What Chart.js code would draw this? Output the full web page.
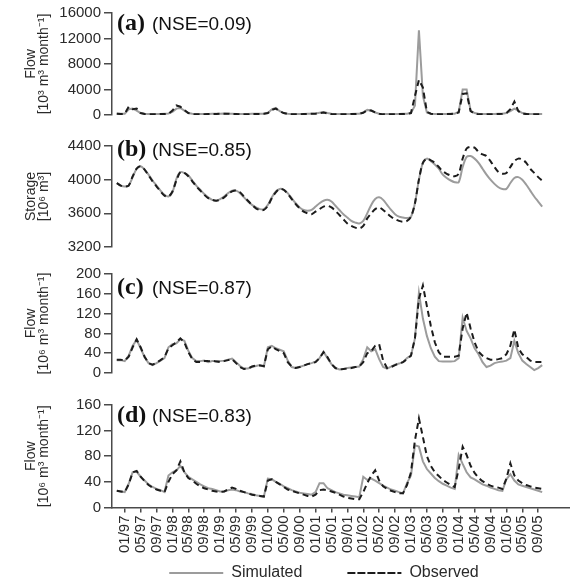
<!DOCTYPE html>
<html>
<head>
<meta charset="utf-8">
<script src="https://cdn.jsdelivr.net/npm/chart.js@4.4.0/dist/chart.umd.min.js"></script>
<style>
  html, body { margin: 0; padding: 0; background: #fff; overflow: hidden; }
  #wrap { position: relative; width: 570px; height: 584px; }
  .panel { position: absolute; left: 0; width: 570px; }
</style>
</head>
<body>
<div id="wrap">
  <div class="panel" style="top:0;height:127px"><canvas id="chartA"></canvas></div>
  <div class="panel" style="top:127px;height:132px"><canvas id="chartB"></canvas></div>
  <div class="panel" style="top:259px;height:126px"><canvas id="chartC"></canvas></div>
  <div class="panel" style="top:385px;height:199px"><canvas id="chartD"></canvas></div>
</div>
<script>
// monthly series, first month 11/96
const firstYear = 1996, firstMonth = 11;

const tickLabels = ['01/97','05/97','09/97','01/98','05/98','09/98','01/99','05/99','09/99',
  '01/00','05/00','09/00','01/01','05/01','09/01','01/02','05/02','09/02',
  '01/03','05/03','09/03','01/04','05/04','09/04','01/05','05/05','09/05'];

// (a) flow [10^3 m3/month]
const simA = [250, 200,
  200, 900, 1000, 700, 300, 200, 150, 150, 150, 150, 200, 250,
  500, 1000, 1100, 700, 300, 200, 150, 150, 150, 150, 200, 200,
  200, 250, 200, 200, 150, 150, 150, 150, 200, 200, 200, 200,
  300, 900, 1100, 600, 300, 200, 150, 150, 150, 150, 200, 200,
  250, 350, 450, 300, 200, 150, 150, 150, 150, 150, 200, 200,
  400, 800, 700, 400, 200, 150, 150, 150, 150, 150, 200, 200,
  300, 1500, 13300, 3000, 400, 200, 150, 150, 150, 150, 200, 200,
  500, 4000, 4000, 700, 300, 200, 150, 150, 150, 150, 200, 200,
  300, 600, 1000, 700, 300, 200, 150, 150, 150, 150];
const obsA = [200, 150,
  200, 1300, 900, 1000, 300, 150, 100, 100, 100, 150, 150, 200,
  700, 1500, 1300, 800, 300, 150, 100, 100, 100, 150, 150, 150,
  200, 200, 200, 150, 150, 100, 100, 100, 150, 150, 150, 200,
  300, 800, 1000, 600, 300, 150, 100, 100, 100, 150, 150, 200,
  200, 300, 400, 250, 150, 100, 100, 100, 100, 150, 150, 200,
  350, 750, 700, 400, 200, 100, 100, 100, 100, 150, 150, 200,
  300, 3000, 5500, 4300, 500, 200, 100, 100, 100, 150, 150, 200,
  400, 3300, 3400, 600, 200, 100, 100, 100, 100, 150, 150, 200,
  300, 900, 2100, 600, 200, 150, 100, 100, 100, 150];

// (b) storage [10^6 m3]
const simB = [3960, 3930,
  3920, 3930, 4030, 4130, 4160, 4120, 4060, 3990, 3930, 3870, 3820, 3800,
  3850, 4010, 4090, 4080, 4050, 3990, 3930, 3880, 3830, 3790, 3760, 3750,
  3770, 3800, 3840, 3870, 3870, 3840, 3790, 3740, 3700, 3670, 3650, 3650,
  3700, 3790, 3860, 3890, 3880, 3840, 3780, 3720, 3670, 3640, 3630, 3640,
  3680, 3720, 3750, 3760, 3740, 3690, 3640, 3590, 3550, 3510, 3490, 3480,
  3510, 3600, 3700, 3770, 3790, 3760, 3700, 3640, 3590, 3560, 3550, 3545,
  3560, 3720, 4000, 4200, 4250, 4220, 4180, 4130, 4060, 4020, 3990, 3970,
  3970, 4150, 4270, 4280, 4250, 4200, 4130, 4060, 4000, 3950, 3910, 3890,
  3890, 3960, 4020, 4030, 4000, 3940, 3870, 3800, 3740, 3680];
const obsB = [3960, 3930,
  3920, 3930, 4040, 4130, 4160, 4120, 4050, 3980, 3920, 3860, 3810, 3800,
  3860, 3990, 4090, 4080, 4040, 3980, 3920, 3870, 3820, 3780, 3760, 3750,
  3760, 3790, 3830, 3860, 3870, 3850, 3800, 3750, 3700, 3660, 3640, 3640,
  3690, 3780, 3850, 3890, 3880, 3830, 3770, 3710, 3660, 3620, 3600, 3590,
  3620, 3650, 3680, 3690, 3670, 3630, 3580, 3530, 3480, 3450, 3430, 3420,
  3450, 3540, 3600, 3650, 3670, 3640, 3600, 3560, 3530, 3510, 3500, 3510,
  3560, 3720, 4000, 4200, 4250, 4230, 4200, 4150, 4100, 4070, 4050, 4040,
  4070, 4250, 4370, 4390, 4380, 4330, 4300, 4280, 4220, 4150, 4090, 4070,
  4080, 4150, 4220, 4250, 4240, 4200, 4130, 4080, 4030, 3990];

// (c) flow [10^6 m3/month]
const simC = [26, 26,
  24, 35, 55, 67, 50, 32, 20, 16, 20, 25, 30, 52,
  58, 60, 68, 65, 45, 30, 24, 24, 25, 22, 24, 24,
  24, 25, 27, 29, 22, 14, 9, 9, 12, 14, 16, 13,
  52, 55, 50, 47, 44, 25, 12, 10, 12, 15, 18, 20,
  23, 30, 43, 30, 18, 10, 7, 8, 10, 11, 12, 13,
  28, 52, 44, 48, 28, 12, 9, 13, 17, 19, 22, 30,
  35, 70, 162, 110, 75, 50, 33, 24, 23, 23, 23, 24,
  30, 112, 85, 70, 50, 38, 22, 12, 15, 20, 22, 23,
  25, 30, 65, 40, 25, 18, 12, 6, 10, 16];
const obsC = [27, 27,
  25, 33, 52, 68, 52, 33, 20, 17, 21, 26, 32, 50,
  56, 62, 70, 62, 42, 28, 22, 22, 24, 24, 25, 23,
  22, 24, 26, 28, 20, 12, 8, 9, 13, 15, 15, 14,
  48, 54, 48, 44, 40, 22, 13, 10, 12, 15, 18, 20,
  22, 30, 42, 32, 18, 10, 7, 8, 9, 10, 12, 13,
  22, 40, 44, 55, 58, 25, 10, 12, 16, 19, 22, 28,
  35, 70, 150, 177, 135, 95, 62, 42, 33, 33, 33, 33,
  35, 90, 122, 90, 62, 43, 35, 30, 27, 27, 28, 30,
  38, 55, 88, 50, 38, 32, 25, 22, 22, 22];

// (d) flow [10^6 m3/month]
const simD = [26, 25,
  24, 37, 55, 56, 48, 42, 36, 32, 29, 27, 24, 50,
  55, 58, 65, 55, 48, 44, 40, 36, 33, 30, 29, 27,
  25, 25, 27, 28, 27, 25, 24, 22, 21, 19, 18, 17,
  45, 44, 40, 37, 33, 30, 27, 25, 23, 22, 21, 20,
  24, 38, 38, 30, 27, 24, 22, 20, 19, 18, 17, 16,
  48, 43, 45, 42, 38, 34, 31, 28, 26, 24, 22, 38,
  50, 97, 95, 72, 60, 53, 46, 41, 37, 34, 31, 29,
  82, 68, 55, 47, 44, 40, 36, 34, 31, 29, 27, 26,
  44, 52, 42, 36, 34, 32, 30, 28, 26, 24];
const obsD = [26, 25,
  24, 36, 55, 57, 48, 41, 35, 31, 28, 26, 24, 40,
  52, 58, 72, 55, 46, 42, 37, 33, 30, 28, 26, 25,
  24, 25, 28, 31, 29, 26, 24, 22, 20, 19, 18, 17,
  42, 44, 40, 36, 32, 28, 26, 24, 22, 20, 18, 17,
  20, 27, 28, 27, 25, 23, 20, 17, 15, 14, 13, 13,
  24, 38, 50, 58, 42, 33, 29, 26, 24, 22, 22, 35,
  55, 105, 139, 110, 80, 65, 55, 49, 43, 39, 35, 32,
  60, 95, 82, 65, 54, 46, 41, 37, 34, 32, 31, 29,
  45, 69, 50, 42, 38, 35, 33, 31, 30, 29];

const pad2 = n => String(n).padStart(2, '0');
const months = simA.map((_, i) => {
  const k = firstMonth - 1 + i;
  return pad2(k % 12 + 1) + '/' + pad2((firstYear + Math.floor(k / 12)) % 100);
});

const axisColor = '#4a4a4a';
const textColor = '#2a2a2a';
const xStart = months.indexOf('01/97') - 3.2;
const xEnd = xStart + 115.2;

Chart.defaults.font.family = '"Liberation Sans", Arial, sans-serif';
Chart.defaults.color = textColor;
Chart.defaults.animation = false;

// "(a) (NSE=...)" label in the top left corner of each panel
const panelTag = {
  id: 'panelTag',
  afterDraw(chart, args, opts) {
    const { ctx, chartArea } = chart;
    ctx.save();
    ctx.fillStyle = '#111';
    ctx.textBaseline = 'alphabetic';
    ctx.font = 'bold 24px "Liberation Serif", serif';
    ctx.fillText(opts.tag, chartArea.left + 5, chartArea.top + opts.dy);
    ctx.font = '19px "Liberation Sans", Arial, sans-serif';
    ctx.fillText(opts.nse, chartArea.left + 40, chartArea.top + opts.dy);
    ctx.restore();
  }
};

// put the legend row under the date labels (its box is clipped, so open it up)
const legendShift = {
  id: 'legendShift',
  afterLayout(chart, args, opts) {
    const lg = chart.legend;
    if (!lg || !lg.options.display) return;
    lg.left += opts.dx; lg.right += opts.dx;
    lg.top = opts.top; lg.bottom = opts.top + 80;
  }
};

function makePanel(id, p) {
  const pts = arr => arr.map((v, i) => ({ x: i, y: v }));
  return new Chart(document.getElementById(id), {
    type: 'line',
    data: {
      datasets: [
        { label: 'Simulated', data: pts(p.sim), borderColor: '#9c9c9c', borderWidth: 2,
          pointRadius: 0, tension: p.tension, order: 2 },
        { label: 'Observed', data: pts(p.obs), borderColor: '#1c1c1c', borderWidth: 2,
          borderDash: [6, 4], pointRadius: 0, tension: p.tension, order: 1 }
      ]
    },
    options: {
      responsive: true,
      maintainAspectRatio: false,
      layout: { padding: { top: p.padTop, bottom: 0, left: 0, right: 0 } },
      plugins: {
        legend: {
          display: !!p.showX,
          position: 'bottom',
          maxHeight: 28,
          // a zero-height box is stroked as a plain (dashed) line sample
          labels: { boxWidth: 54, boxHeight: 0, padding: 45, color: textColor,
                    font: { size: 16 },
                    sort: (a, b) => a.datasetIndex - b.datasetIndex }
        },
        tooltip: { enabled: false },
        panelTag: { tag: p.tag, nse: p.nse, dy: p.tagDy },
        legendShift: { dx: 39, top: 135 }
      },
      scales: {
        x: {
          type: 'linear', min: xStart, max: xEnd, display: !!p.showX,
          grid: { drawOnChartArea: false, tickLength: 5, color: axisColor, lineWidth: 1.5 },
          border: { color: axisColor, width: 1.5 },
          afterBuildTicks: axis => { axis.ticks = tickLabels.map(l => ({ value: months.indexOf(l) })); },
          ticks: { autoSkip: false, minRotation: 90, maxRotation: 90, padding: 3,
                   color: textColor, font: { size: 15 }, callback: v => months[v] }
        },
        y: {
          min: p.yMin, max: p.yMax,
          grid: { drawOnChartArea: false, tickLength: 8, color: axisColor, lineWidth: 1.5 },
          border: { color: axisColor, width: 1.5 },
          ticks: { stepSize: p.yStep, padding: 3, autoSkip: false, color: textColor,
                   font: { size: 15 }, callback: v => String(v) },
          title: { display: true, text: p.yTitle, color: textColor,
                   font: { size: 14, lineHeight: 0.95 }, padding: { top: 24, bottom: 0 } },
          afterFit: axis => { axis.width = 112; }
        }
      }
    },
    plugins: [panelTag, legendShift]
  });
}

makePanel('chartA', { sim: simA, obs: obsA, yMin: 0, yMax: 16000, yStep: 4000,
  yTitle: ['Flow', '[10³ m³ month⁻¹]'], tag: '(a)', nse: '(NSE=0.09)', tagDy: 17,
  padTop: 13, tension: 0 });
makePanel('chartB', { sim: simB, obs: obsB, yMin: 3200, yMax: 4400, yStep: 400,
  yTitle: ['Storage', '[10⁶ m³]'], tag: '(b)', nse: '(NSE=0.85)', tagDy: 10,
  padTop: 19, tension: 0.3 });
makePanel('chartC', { sim: simC, obs: obsC, yMin: 0, yMax: 200, yStep: 40,
  yTitle: ['Flow', '[10⁶ m³ month⁻¹]'], tag: '(c)', nse: '(NSE=0.87)', tagDy: 20,
  padTop: 15, tension: 0 });
makePanel('chartD', { sim: simD, obs: obsD, yMin: 0, yMax: 160, yStep: 40,
  yTitle: ['Flow', '[10⁶ m³ month⁻¹]'], tag: '(d)', nse: '(NSE=0.83)', tagDy: 17,
  padTop: 20, tension: 0, showX: true });
</script>
</body>
</html>
